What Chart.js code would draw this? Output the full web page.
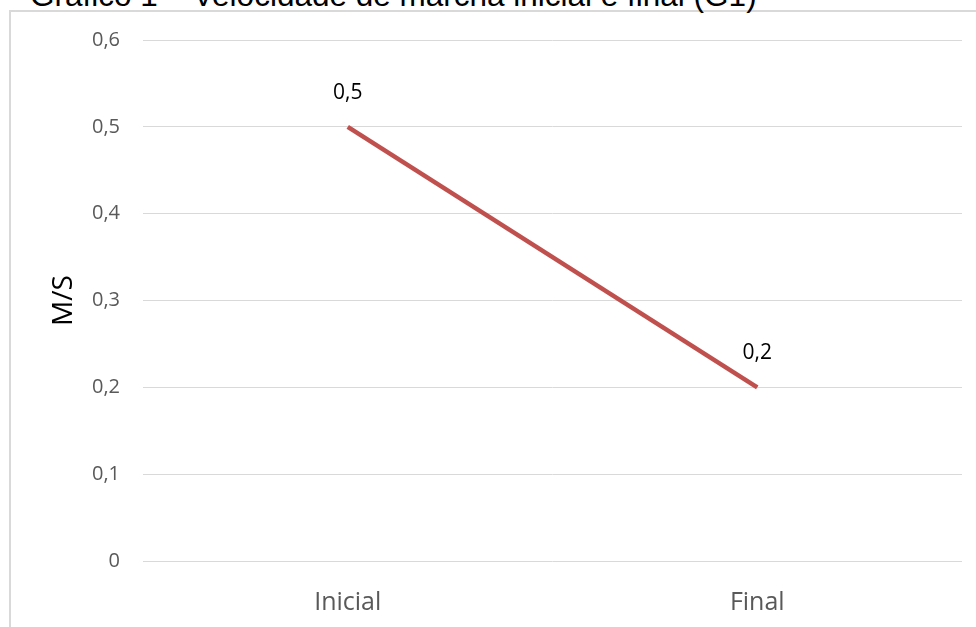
<!DOCTYPE html>
<html>
<head>
<meta charset="utf-8">
<script src="https://cdn.jsdelivr.net/npm/chart.js@4"></script>
<style>
  html, body { margin: 0; padding: 0; background: #fff; }
  body { width: 976px; height: 627px; overflow: hidden; position: relative; }
  .frameTop { position: absolute; left: 9px; top: 10px; width: 967px; height: 2px; background: #d9d9d9; }
  .frameLeft { position: absolute; left: 9px; top: 10px; width: 2px; height: 617px; background: #d9d9d9; }
  #title { position: absolute; left: 30px; top: -20px; font-family: "Liberation Sans", Arial, sans-serif; font-size: 31.5px; line-height: 1; color: #000; white-space: nowrap; }
  #chart { position: absolute; left: 0; top: 0; }
</style>
</head>
<body>
<div class="frameTop"></div>
<div class="frameLeft"></div>
<div id="title">Gráfico 1 – Velocidade de marcha inicial e final (G1)</div>
<canvas id="chart" width="976" height="627"></canvas>
<script>
const categories = ["Inicial", "Final"];
const speeds = [0.5, 0.2];
const yTitle = "M/S";

function fmt(v) {
    return v === 0 ? "0" : v.toFixed(1).replace(".", ",");
}

// rótulos de valor acima de cada ponto
const valueLabels = {
    id: "valueLabels",
    afterDatasetsDraw(chart) {
        const ctx = chart.ctx;
        const meta = chart.getDatasetMeta(0);
        ctx.save();
        ctx.font = "21px 'Open Sans'";
        ctx.fillStyle = "#000";
        ctx.textAlign = "center";
        ctx.textBaseline = "middle";
        meta.data.forEach((pt, i) => {
            ctx.fillText(fmt(speeds[i]), pt.x, pt.y - 34);
        });
        ctx.restore();
    }
};

const ctx = document.getElementById("chart").getContext("2d");
const chart = new Chart(ctx, {
    type: "line",
    data: {
        labels: categories,
        datasets: [{
            data: speeds,
            borderColor: "#c0504d",
            borderWidth: 4.5,
            pointRadius: 0,
            tension: 0,
            fill: false
        }]
    },
    options: {
        responsive: false,
        animation: false,
        layout: { padding: { top: 40, right: 14, bottom: 0, left: 0 } },
        plugins: {
            legend: { display: false },
            tooltip: { enabled: false }
        },
        scales: {
            x: {
                offset: true,
                grid: { display: false, drawTicks: false },
                border: { display: false },
                ticks: { color: "#595959", font: { family: "Open Sans", size: 25 }, padding: 27 },
                afterFit: (s) => { s.height = 66; }
            },
            y: {
                min: 0,
                max: 0.6,
                ticks: {
                    stepSize: 0.1,
                    color: "#595959",
                    font: { family: "Open Sans", size: 20 },
                    padding: 23,
                    callback: (v) => fmt(v)
                },
                grid: { color: "#d9d9d9", lineWidth: 1, drawTicks: false },
                border: { display: false },
                title: {
                    display: true,
                    text: yTitle,
                    color: "#000",
                    font: { family: "Open Sans", size: 28 },
                    padding: { top: 47, bottom: 0 }
                },
                afterFit: (s) => { s.width = 143; }
            }
        }
    },
    plugins: [valueLabels]
});
</script>
</body>
</html>
